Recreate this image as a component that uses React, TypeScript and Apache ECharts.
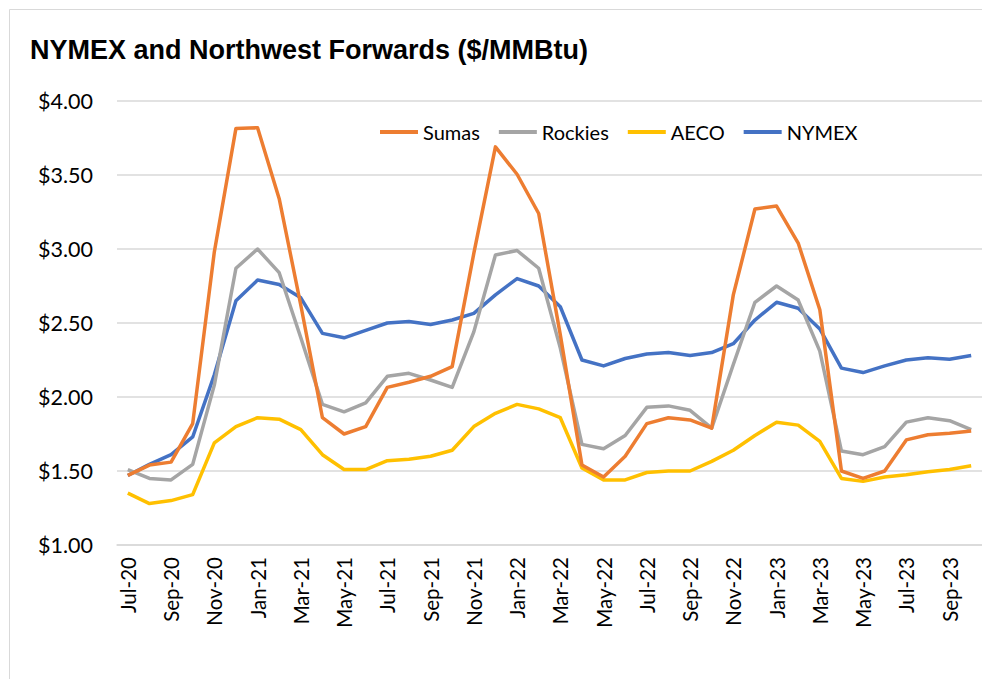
import React, { useEffect, useRef } from "react";
import * as echarts from "echarts";

const months = [
  "Jul-20","Aug-20","Sep-20","Oct-20","Nov-20","Dec-20","Jan-21","Feb-21","Mar-21","Apr-21",
  "May-21","Jun-21","Jul-21","Aug-21","Sep-21","Oct-21","Nov-21","Dec-21","Jan-22","Feb-22",
  "Mar-22","Apr-22","May-22","Jun-22","Jul-22","Aug-22","Sep-22","Oct-22","Nov-22","Dec-22",
  "Jan-23","Feb-23","Mar-23","Apr-23","May-23","Jun-23","Jul-23","Aug-23","Sep-23","Oct-23",
];

const sumas = [
  1.47, 1.54, 1.56, 1.82, 2.98, 3.815, 3.82, 3.34, 2.62, 1.86,
  1.75, 1.80, 2.065, 2.10, 2.14, 2.205, 2.97, 3.69, 3.505, 3.24,
  2.42, 1.54, 1.46, 1.60, 1.82, 1.86, 1.845, 1.79, 2.69, 3.27,
  3.29, 3.04, 2.59, 1.50, 1.45, 1.50, 1.71, 1.745, 1.755, 1.77,
];

const rockies = [
  1.51, 1.45, 1.44, 1.545, 2.08, 2.87, 3.00, 2.84, 2.40, 1.95,
  1.90, 1.96, 2.14, 2.16, 2.115, 2.065, 2.44, 2.96, 2.99, 2.87,
  2.33, 1.68, 1.65, 1.74, 1.93, 1.94, 1.91, 1.79, 2.22, 2.64,
  2.75, 2.655, 2.31, 1.635, 1.61, 1.665, 1.83, 1.86, 1.84, 1.78,
];

const aeco = [
  1.35, 1.28, 1.30, 1.34, 1.69, 1.80, 1.86, 1.85, 1.78, 1.61,
  1.51, 1.51, 1.57, 1.58, 1.60, 1.64, 1.80, 1.89, 1.95, 1.92,
  1.86, 1.52, 1.44, 1.44, 1.49, 1.50, 1.50, 1.565, 1.64, 1.74,
  1.83, 1.81, 1.70, 1.45, 1.43, 1.46, 1.475, 1.495, 1.51, 1.535,
];

const nymex = [
  1.47, 1.545, 1.61, 1.73, 2.15, 2.65, 2.79, 2.76, 2.67, 2.43,
  2.40, 2.45, 2.50, 2.51, 2.49, 2.52, 2.565, 2.69, 2.80, 2.75,
  2.61, 2.25, 2.21, 2.26, 2.29, 2.30, 2.28, 2.30, 2.36, 2.52,
  2.64, 2.60, 2.46, 2.195, 2.165, 2.21, 2.25, 2.265, 2.255, 2.28,
];

const seriesNames = ["Sumas", "Rockies", "AECO", "NYMEX"];
const seriesColors = ["#ED7D31", "#A5A5A5", "#FFC000", "#4472C4"];
const seriesData = [sumas, rockies, aeco, nymex];

const titleText = "NYMEX and Northwest Forwards ($/MMBtu)";
const labelFont = "Lato, 'Liberation Sans', sans-serif";

export default function App() {
  const ref = useRef<HTMLDivElement>(null);

  useEffect(() => {
    document.body.style.margin = "0";
    const chart = echarts.init(ref.current!, null, { renderer: "svg" });
    chart.setOption({
      animation: false,
      backgroundColor: "#ffffff",
      title: {
        text: titleText,
        left: 25,
        top: 31,
        textStyle: {
          fontFamily: "'Liberation Sans Narrow', 'Liberation Sans', sans-serif",
          fontWeight: "bold",
          fontSize: 27,
          color: "#000000",
        },
      },
      graphic: [
        {
          type: "rect",
          shape: { x: 9.5, y: 9.5, width: 1100, height: 800 },
          style: { fill: "none", stroke: "#d9d9d9", lineWidth: 1 },
          silent: true,
        },
      ],
      legend: {
        data: seriesNames,
        left: 375,
        top: 117,
        itemWidth: 38,
        itemHeight: 4,
        itemGap: 19,
        icon: "rect",
        textStyle: { fontFamily: labelFont, fontSize: 20, color: "#000000" },
      },
      grid: { left: 117, right: -13, top: 101, bottom: 134, containLabel: false },
      xAxis: {
        type: "category",
        data: months,
        boundaryGap: true,
        axisLine: { lineStyle: { color: "#d9d9d9", width: 1.5 } },
        axisTick: { interval: 1, length: 7, lineStyle: { color: "#d9d9d9", width: 1.5 } },
        axisLabel: {
          interval: 1,
          rotate: 90,
          margin: 12,
          fontFamily: labelFont,
          fontSize: 20.5,
          color: "#000000",
        },
        splitLine: { show: false },
      },
      yAxis: {
        type: "value",
        min: 1,
        max: 4,
        interval: 0.5,
        axisLine: { show: false },
        axisTick: { show: false },
        axisLabel: {
          margin: 24,
          fontFamily: labelFont,
          fontSize: 21.5,
          color: "#000000",
          formatter: (v: number) => "$" + v.toFixed(2),
        },
        splitLine: { lineStyle: { color: "#d9d9d9", width: 1.5 } },
      },
      series: seriesNames.map((name, k) => ({
        name,
        type: "line",
        data: seriesData[k],
        symbol: "none",
        color: seriesColors[k],
        lineStyle: { width: 3.5, color: seriesColors[k], join: "round" },
        z: 10 - k,
      })),
    });
    return () => chart.dispose();
  }, []);

  return (
    <div
      ref={ref}
      style={{ position: "fixed", left: 0, top: 0, width: 982, height: 679 }}
    />
  );
}
